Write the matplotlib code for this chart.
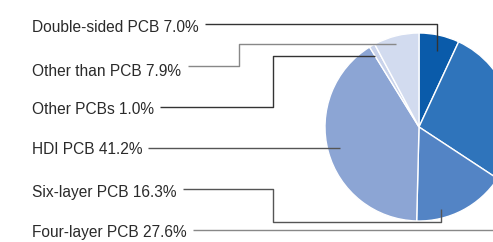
import matplotlib.pyplot as plt

labels = ["Double-sided PCB", "Four-layer PCB", "Six-layer PCB", "HDI PCB",
          "Other PCBs", "Other than PCB"]
shares = [7.0, 27.6, 16.3, 41.2, 1.0, 7.9]
colors = ["#0A5BAA", "#2F74BB", "#5384C5", "#8CA5D4", "#C9D3EB", "#D2DBEF"]

# label order down the left side
label_order = ["Double-sided PCB", "Other than PCB", "Other PCBs",
               "HDI PCB", "Six-layer PCB", "Four-layer PCB"]

W, H = 493, 242
fig = plt.figure(figsize=(W / 100, H / 100), dpi=100)
ax = fig.add_axes([0, 0, 1, 1])

cx, cy, r = 419, H - 127, 94
ax.pie(shares, colors=colors, startangle=90, counterclock=False,
       center=(cx, cy), radius=r,
       wedgeprops=dict(edgecolor="white", linewidth=1.0))
ax.set_xlim(0, W)
ax.set_ylim(0, H)
ax.set_aspect("equal")
ax.axis("off")

font = ["Liberation Sans", "DejaVu Sans"]
text_y = [27, 71, 109, 149, 193, 232]
value = dict(zip(labels, shares))
for name, ty in zip(label_order, text_y):
    ax.text(32, H - ty, f"{name} {value[name]:.1f}%", fontsize=11.2,
            family=font, color="#2a2a2a", va="center", ha="left")

# leader lines (pixel paths from label to slice)
leaders = [
    ([205, 437, 437], [24, 24, 51], "#333333"),
    ([188, 239, 239, 396], [66, 66, 44, 44], "#888888"),
    ([160, 273, 273, 375], [107, 107, 56, 56], "#333333"),
    ([148, 340], [148, 148], "#555555"),
    ([183, 273, 273, 441, 441], [189, 189, 222, 222, 209], "#555555"),
    ([193, 493], [230, 230], "#888888"),
]
for xs, ys, c in leaders:
    ax.plot(xs, [H - y for y in ys], color=c, lw=1.0, solid_capstyle="butt")

fig.savefig("out.png", dpi=100)
